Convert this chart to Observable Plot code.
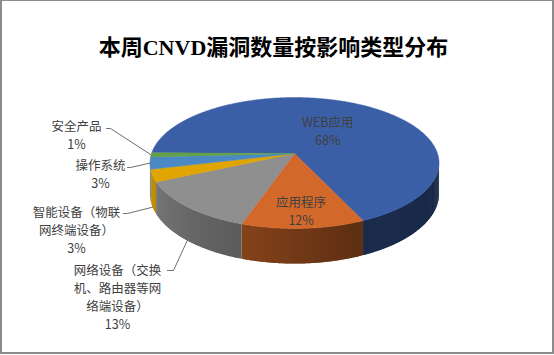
<!DOCTYPE html>
<html>
<head>
<meta charset="utf-8">
<script src="https://cdn.jsdelivr.net/npm/d3@7"></script>
<script src="https://cdn.jsdelivr.net/npm/@observablehq/plot@0.6"></script>
<style>
  html, body { margin: 0; padding: 0; background: #fff; }
  #wrap { position: relative; width: 554px; height: 355px; overflow: hidden; }
  #chart { position: absolute; left: 0; top: 0; }
  #border { position: absolute; left: 0; top: 0; width: 554px; height: 354px; box-sizing: border-box;
            border-style: solid; border-color: #8c8c8c; border-width: 1px 2px 2px 2px; pointer-events: none; }
</style>
</head>
<body>
<div id="wrap"><div id="chart"></div><div id="border"></div></div>
<script>
// ---------- data ----------
const title = "本周CNVD漏洞数量按影响类型分布";
const categories = ["WEB应用", "应用程序", "网络设备（交换机、路由器等网络端设备）", "智能设备（物联网终端设备）", "操作系统", "安全产品"];
const labelText = ["WEB应用", "应用程序", "网络设备（交换\n机、路由器等网\n络端设备）", "智能设备（物联\n网终端设备）", "操作系统", "安全产品"];
const values = [68, 12, 13, 3, 3, 1];
const percentLabels = ["68%", "12%", "13%", "3%", "3%", "1%"];

// ---------- styles ----------
const topColors = ["#3A5FA7", "#D2692A", "#8F8F8F", "#E0A500", "#4A89C3", "#62A04A"];
const labelColor = "#404040";
const leaderColor = "#6f6f6f";

// ---------- layout (3D pie geometry) ----------
const W = 554, Hh = 355;
const cx = 294, cy = 153, A = 143, B = 64.1, persp = 0.145, depth = 30, startAngle = 270.6;
const shade = d3.scaleLinear().domain([100, 160, 200, 240, 262]).range([0.42, 0.46, 0.64, 0.80, 0.90]).clamp(true);
const labelPlacement = [
  {inside: true, r: 0.45},
  {inside: true, r: 0.78},
  {x: 117, y: 295.5, path: [[167, 270], [173, 270]], down: 1},
  {x: 76, y: 228.5, path: [[123, 213], [127, 213]], down: 1},
  {x: 100, y: 172.5, path: [[127, 167], [130, 167]], down: 0},
  {x: 76, y: 134, path: [[106, 128], [110, 128]], down: 0}
];

function proj(deg, r = 1, down = 0) {
  const t = deg * Math.PI / 180;
  const X = r * Math.sin(t), Z = r * Math.cos(t);
  const d = 1 + persp * Z;
  return [cx + A * X / d, cy - B * Z / d + depth * down / d];
}

// slices from values
const total = d3.sum(values);
let acc = startAngle;
const slices = values.map((v, i) => {
  const a0 = acc, a1 = acc + v / total * 360;
  acc = a1;
  return {i, a0, a1, mid: (a0 + a1) / 2};
});

// top faces
const topPts = [];
for (const s of slices) {
  const n = Math.max(2, Math.ceil((s.a1 - s.a0) / 0.5));
  topPts.push({k: s.i, x: cx, y: cy});
  for (let j = 0; j <= n; j++) {
    const [x, y] = proj(s.a0 + (s.a1 - s.a0) * j / n);
    topPts.push({k: s.i, x, y});
  }
  topPts.push({k: s.i, x: cx, y: cy});
}

// side strips (visible front part between silhouettes)
const silA = 180 - Math.acos(persp) * 180 / Math.PI; // ~98.3
const silB = 360 - silA;                           // ~261.7
const sidePts = [];
let strip = 0;
for (const s of slices) {
  for (const k of [0, 360]) {
    const lo = Math.max(s.a0, silA + k), hi = Math.min(s.a1, silB + k);
    if (hi <= lo) continue;
    const n = Math.max(1, Math.ceil(hi - lo));
    for (let j = 0; j < n; j++) {
      const t0 = lo + (hi - lo) * j / n;
      const t1 = Math.min(hi, lo + (hi - lo) * (j + 1) / n + 0.8);
      const f = shade((lo + (hi - lo) * (j + 0.5) / n) % 360);
      const c = d3.rgb(topColors[s.i]);
      const col = d3.rgb(c.r * f, c.g * f, c.b * f).formatHex();
      const p = [proj(t0)];
      const m = 4;
      for (let q = 1; q <= m; q++) p.push(proj(t0 + (t1 - t0) * q / m));
      for (let q = m; q >= 0; q--) p.push(proj(t0 + (t1 - t0) * q / m, 1, 1));
      p.push(proj(t0));
      for (const [x, y] of p) sidePts.push({k: strip, x, y, col});
      strip++;
    }
  }
}

// labels
const labels = slices.map(s => {
  const L = labelPlacement[s.i];
  const text = labelText[s.i] + "\n" + percentLabels[s.i];
  if (L.inside) {
    const [x, y] = proj(s.mid, L.r);
    return {x, y, text};
  }
  return {x: L.x, y: L.y, text};
});
const leaders = [];
slices.forEach(s => {
  const L = labelPlacement[s.i];
  if (L.inside) return;
  const end = proj(s.mid, 1, L.down);
  for (const [x, y] of L.path) leaders.push({k: s.i, x, y});
  leaders.push({k: s.i, x: end[0], y: end[1]});
});

const chart = Plot.plot({
  width: W,
  height: Hh,
  margin: 0,
  x: {domain: [0, W], range: [0, W], axis: null},
  y: {domain: [0, Hh], range: [0, Hh], axis: null},
  color: {type: "identity"},
  style: {background: "white"},
  marks: [
    Plot.line(sidePts, {x: "x", y: "y", z: "k", fill: "col", stroke: "none", curve: "linear"}),
    Plot.line(topPts, {x: "x", y: "y", z: "k", fill: d => topColors[d.k], stroke: d => topColors[d.k], strokeWidth: 0.5, curve: "linear"}),
    Plot.line(leaders, {x: "x", y: "y", z: "k", stroke: leaderColor, strokeWidth: 1, curve: "linear"}),
    Plot.text(labels, {x: "x", y: "y", text: "text", fill: labelColor, fontSize: 12.5, lineHeight: 1.44,
      fontFamily: "'Noto Sans CJK SC', sans-serif", textAnchor: "middle", lineAnchor: "middle"}),
    Plot.text([title], {text: d => d, frameAnchor: "top", dx: -4, dy: 47, lineAnchor: "middle", fill: "#000",
      fontSize: 22, fontWeight: "bold", fontFamily: "'Liberation Serif', 'Noto Sans CJK SC', serif"})
  ]
});
document.getElementById("chart").appendChild(chart);
</script>
</body>
</html>
